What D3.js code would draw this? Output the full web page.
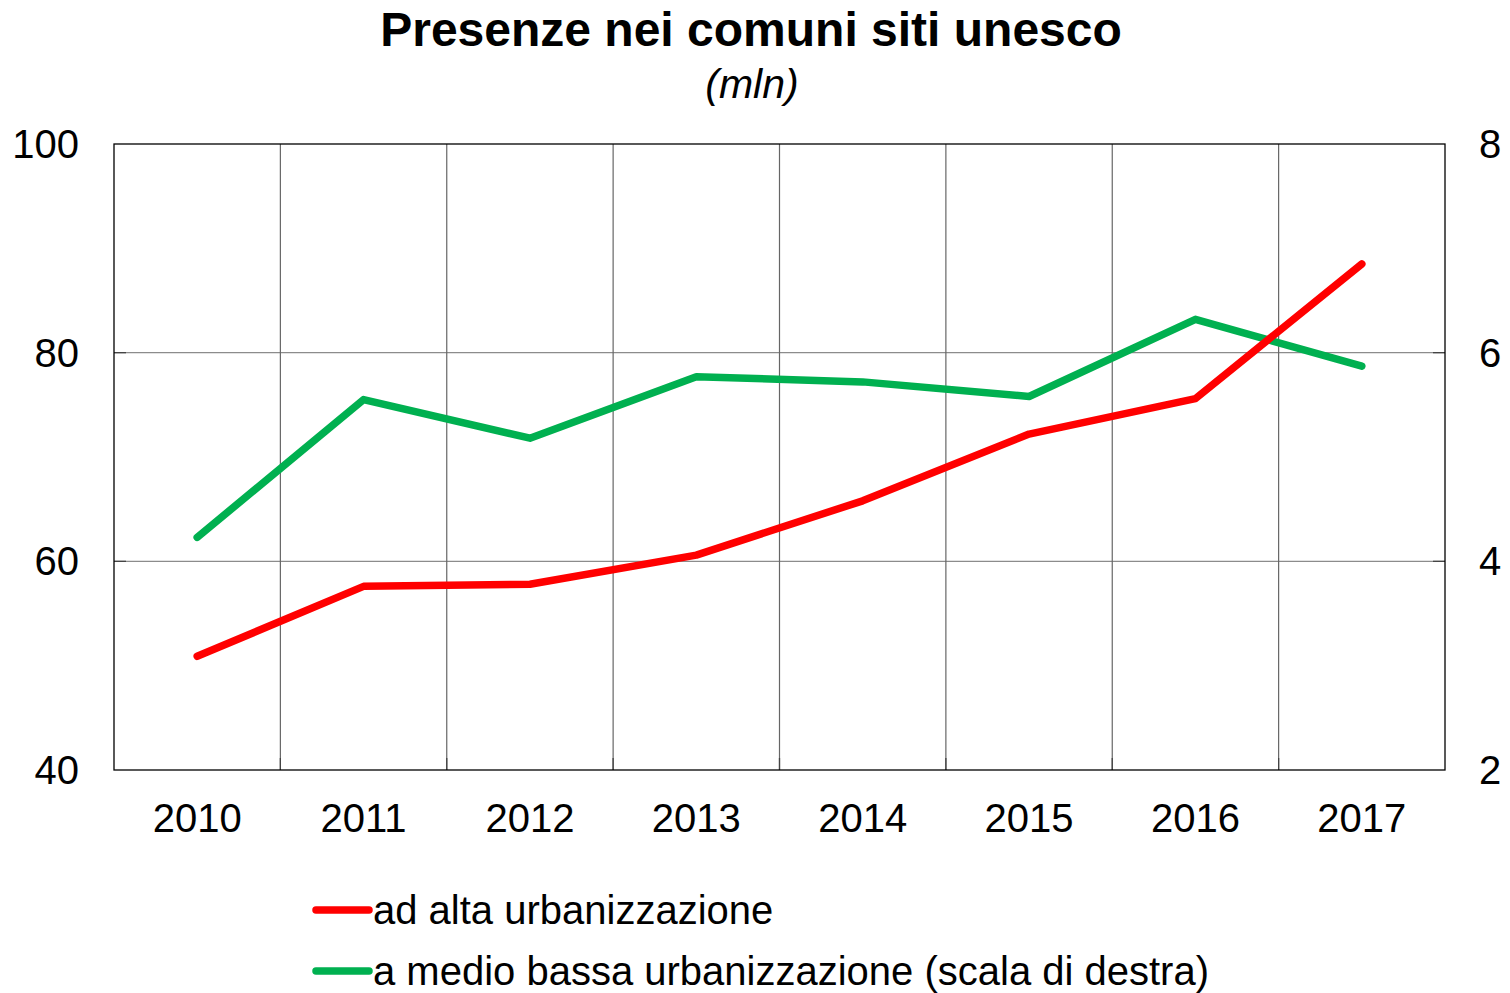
<!DOCTYPE html>
<html>
<head>
<meta charset="utf-8">
<script src="https://cdn.jsdelivr.net/npm/d3@7"></script>
<style>
  body { margin: 0; background: #fff; }
  text { font-family: "Liberation Sans", Arial, sans-serif; fill: #000; }
</style>
</head>
<body>
<svg id="chart" width="1510" height="993"></svg>
<script>
// data
var years = ["2010", "2011", "2012", "2013", "2014", "2015", "2016", "2017"];
var altaUrb = [50.9, 57.6, 57.8, 60.6, 65.8, 72.2, 75.6, 88.5];   // left axis
var medioBassaUrb = [4.23, 5.55, 5.18, 5.77, 5.72, 5.58, 6.32, 5.87]; // right axis
var leftTicks = [40, 60, 80, 100];
var rightTicks = [2, 4, 6, 8];
var seriesNames = ["ad alta urbanizzazione", "a medio bassa urbanizzazione (scala di destra)"];
var seriesColors = ["#ff0000", "#00b050"];

var svg = d3.select("#chart");
var m = { left: 114, right: 1445, top: 144, bottom: 770 };

var x = d3.scaleBand().domain(years).range([m.left, m.right]);
var yL = d3.scaleLinear().domain([40, 100]).range([m.bottom, m.top]);
var yR = d3.scaleLinear().domain([2, 8]).range([m.bottom, m.top]);

// title
svg.append("text")
  .attr("x", 751).attr("y", 46)
  .attr("text-anchor", "middle")
  .style("font-weight", "bold")
  .style("font-size", "48px")
  .text("Presenze nei comuni siti unesco");
svg.append("text")
  .attr("x", 752).attr("y", 98)
  .attr("text-anchor", "middle")
  .style("font-style", "italic")
  .style("font-size", "41px")
  .text("(mln)");

// horizontal grid
svg.append("g").selectAll("line")
  .data(leftTicks.filter(function (d) { return d > 40 && d < 100; }))
  .enter().append("line")
  .attr("x1", m.left).attr("x2", m.right)
  .attr("y1", function (d) { return yL(d); })
  .attr("y2", function (d) { return yL(d); })
  .attr("stroke", "#8c8c8c").attr("stroke-width", 1.2);

// vertical grid at category boundaries
svg.append("g").selectAll("line")
  .data(years.slice(1))
  .enter().append("line")
  .attr("x1", function (d) { return x(d); })
  .attr("x2", function (d) { return x(d); })
  .attr("y1", m.top).attr("y2", m.bottom)
  .attr("stroke", "#666").attr("stroke-width", 1.2);

// small inner tick marks (left, right, bottom)
svg.append("g").selectAll("line")
  .data(leftTicks.slice(1, 3))
  .enter().append("line")
  .attr("x1", m.left).attr("x2", m.left + 12)
  .attr("y1", function (d) { return yL(d); })
  .attr("y2", function (d) { return yL(d); })
  .attr("stroke", "#444").attr("stroke-width", 1.3);
svg.append("g").selectAll("line")
  .data(rightTicks.slice(1, 3))
  .enter().append("line")
  .attr("x1", m.right - 12).attr("x2", m.right)
  .attr("y1", function (d) { return yR(d); })
  .attr("y2", function (d) { return yR(d); })
  .attr("stroke", "#444").attr("stroke-width", 1.3);
svg.append("g").selectAll("line")
  .data(years.slice(1))
  .enter().append("line")
  .attr("x1", function (d) { return x(d); })
  .attr("x2", function (d) { return x(d); })
  .attr("y1", m.bottom - 12).attr("y2", m.bottom)
  .attr("stroke", "#444").attr("stroke-width", 1.3);

// plot frame
svg.append("rect")
  .attr("x", m.left).attr("y", m.top)
  .attr("width", m.right - m.left).attr("height", m.bottom - m.top)
  .attr("fill", "none").attr("stroke", "#000").attr("stroke-width", 1.3);

// left axis labels
svg.append("g").selectAll("text")
  .data(leftTicks)
  .enter().append("text")
  .attr("x", 79)
  .attr("y", function (d) { return yL(d) + 14; })
  .attr("text-anchor", "end")
  .style("font-size", "40px")
  .text(function (d) { return d; });

// right axis labels
svg.append("g").selectAll("text")
  .data(rightTicks)
  .enter().append("text")
  .attr("x", 1479)
  .attr("y", function (d) { return yR(d) + 14; })
  .attr("text-anchor", "start")
  .style("font-size", "40px")
  .text(function (d) { return d; });

// category labels
svg.append("g").selectAll("text")
  .data(years)
  .enter().append("text")
  .attr("x", function (d) { return x(d) + x.bandwidth() / 2; })
  .attr("y", 832)
  .attr("text-anchor", "middle")
  .style("font-size", "40px")
  .text(function (d) { return d; });

// lines
var lineL = d3.line()
  .x(function (d, i) { return x(years[i]) + x.bandwidth() / 2; })
  .y(function (d) { return yL(d); });
var lineR = d3.line()
  .x(function (d, i) { return x(years[i]) + x.bandwidth() / 2; })
  .y(function (d) { return yR(d); });

svg.append("path").datum(medioBassaUrb)
  .attr("d", lineR)
  .attr("fill", "none").attr("stroke", seriesColors[1])
  .attr("stroke-width", 7.5).attr("stroke-linecap", "round").attr("stroke-linejoin", "round");
svg.append("path").datum(altaUrb)
  .attr("d", lineL)
  .attr("fill", "none").attr("stroke", seriesColors[0])
  .attr("stroke-width", 7.5).attr("stroke-linecap", "round").attr("stroke-linejoin", "round");

// legend
var legend = svg.append("g").selectAll("g")
  .data(seriesNames)
  .enter().append("g")
  .attr("transform", function (d, i) { return "translate(316," + (910 + i * 61) + ")"; });
legend.append("line")
  .attr("x1", 0).attr("x2", 53)
  .attr("y1", 0).attr("y2", 0)
  .attr("stroke", function (d, i) { return seriesColors[i]; })
  .attr("stroke-width", 7.5).attr("stroke-linecap", "round");
legend.append("text")
  .attr("x", 57).attr("y", 14)
  .style("font-size", "40px")
  .text(function (d) { return d; });
</script>
</body>
</html>
